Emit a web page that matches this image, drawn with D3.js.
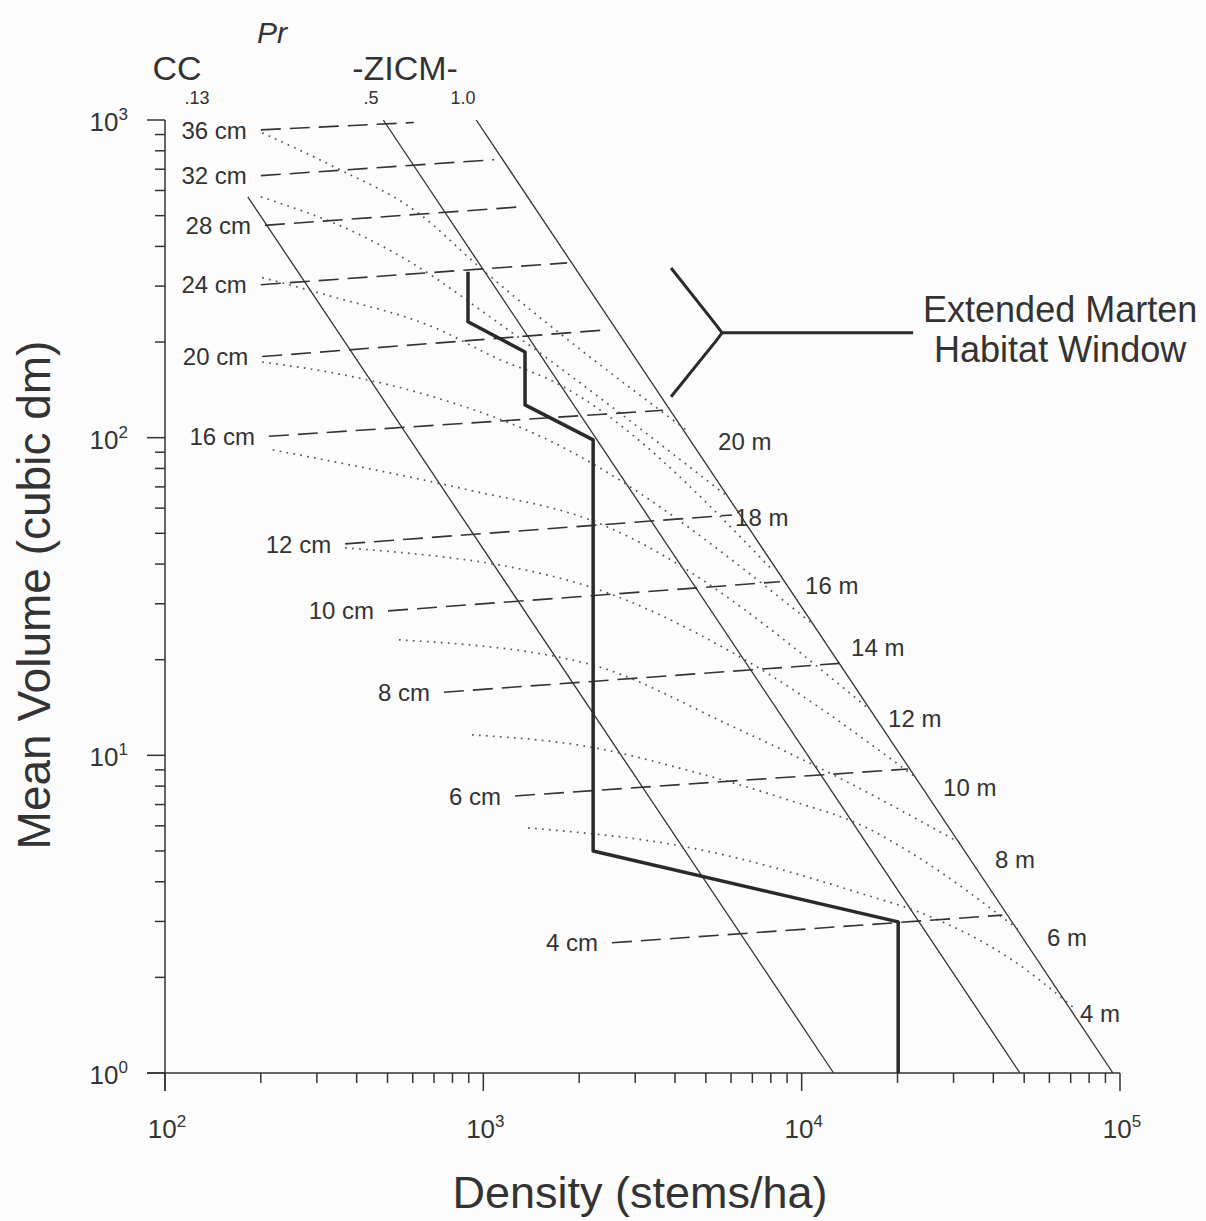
<!DOCTYPE html>
<html>
<head>
<meta charset="utf-8">
<script src="https://cdn.jsdelivr.net/npm/d3@7"></script>
<style>
  body { margin: 0; background: #fcfcfc; }
  svg { display: block; font-family: "Liberation Sans", Arial, sans-serif; }
  text { fill: #333; }
</style>
</head>
<body>
<div id="viz"></div>
<script>
// self-thinning lines (relative density Pr)
const prValues = [".13", ".5", "1.0"];
const prTopDensity = [182, 485, 950];
const prTopVolume = [573, 1000, 1000];
const prBottomDensity = [12600, 48500, 95000];
const prHeaderDensity = [126, 444, 864];

// quadratic mean diameter isolines (cm)
const diameters = [36, 32, 28, 24, 20, 16, 12, 10, 8, 6, 4];
const diamStartDensity = [200, 200, 206, 200, 202, 212, 368, 502, 752, 1258, 2535];
const diamStartVolume = [931, 668, 466, 303, 180, 101, 46.3, 28.5, 15.8, 7.45, 2.57];
const diamEndDensity = [605, 1081, 1313, 1833, 2377, 3670, 6040, 8550, 13400, 21600, 42700];
const diamEndVolume = [982, 750, 533, 355, 218, 122, 57.1, 35.2, 19.5, 9.06, 3.14];

// top height isolines (m): [density, volume] pairs
const heights = [20, 18, 16, 14, 12, 10, 8, 6, 4];
const heightCurves = [
  [[202, 911], [340, 712], [624, 510], [970, 345], [4333, 105.8]],
  [[200, 573], [422, 429], [624, 345], [1081, 235], [5872, 65.1]],
  [[202, 319], [340, 277], [695, 223], [1128, 176], [1620, 152], [8072, 38.4]],
  [[202, 173], [337, 160], [695, 134.5], [1433, 103.5], [10940, 25.7]],
  [[218, 91.5], [895, 68.5], [2164, 55.1], [16400, 13.9]],
  [[368, 45.0], [2164, 33.9], [6088, 21.0], [22720, 8.55]],
  [[543, 23.1], [2102, 19.5], [6088, 12.3], [13500, 8.37], [31450, 5.30]],
  [[921, 11.6], [2195, 10.6], [4333, 9.0], [9065, 7.24], [15820, 5.95], [22060, 4.93], [48570, 2.80]],
  [[1382, 5.91], [4333, 5.15], [15150, 3.69], [25500, 3.10], [45800, 2.27], [71250, 1.61]]
];
const heightLabelDensity = [5463, 6177, 10250, 14300, 18680, 27820, 40510, 59020, 74930];
const heightLabelVolume = [97.7, 56.3, 34.4, 21.9, 13.1, 7.95, 4.69, 2.68, 1.545];

// marten habitat window boundary
const habitatDensity = [895, 895, 1352, 1352, 2213, 2213, 20100, 20100];
const habitatVolume = [333, 231.6, 186, 126.8, 98.4, 5.0, 2.99, 1];

// bracket annotation
const bracketArms = [[3888, 342], [5384, 226.6], [5623, 213.8], [5384, 201.7], [3888, 134.5]];
const bracketStem = [[5623, 213.8], [22390, 213.8]];
const bracketText = ["Extended Marten", "Habitat Window"];
const bracketTextDensity = 64860;

const W = 1206, H = 1221;
const svg = d3.select("#viz").append("svg")
  .attr("width", W).attr("height", H);

svg.append("rect").attr("width", W).attr("height", H).attr("fill", "#fcfcfc");

const x = d3.scaleLog().domain([1e2, 1e5]).range([165, 1120]);
const y = d3.scaleLog().domain([1, 1e3]).range([1073, 120]);

const ink = "#333";
const line = d3.line().x(d => x(d[0])).y(d => y(d[1]));
const smooth = d3.line().x(d => x(d[0])).y(d => y(d[1])).curve(d3.curveMonotoneX);

// axes
const ax = svg.append("g").attr("stroke", ink).attr("stroke-width", 1.5);
ax.append("line")
  .attr("x1", x(1e2)).attr("x2", x(1e2))
  .attr("y1", y(1e3)).attr("y2", y(1) + 18);
ax.append("line")
  .attr("x1", x(1e2) - 18).attr("x2", x(1e5))
  .attr("y1", y(1)).attr("y2", y(1));

const isMajor = v => Math.abs(Math.log10(v) - Math.round(Math.log10(v))) < 1e-6;

ax.selectAll(".yt")
  .data(y.ticks())
  .enter().append("line")
  .attr("x1", d => x(1e2) - (isMajor(d) ? 18 : 10))
  .attr("x2", x(1e2))
  .attr("y1", d => y(d)).attr("y2", d => y(d));

ax.selectAll(".xt")
  .data(x.ticks())
  .enter().append("line")
  .attr("x1", d => x(d)).attr("x2", d => x(d))
  .attr("y1", y(1))
  .attr("y2", d => y(1) + (isMajor(d) ? 18 : 10));

const yLab = svg.selectAll(".yl")
  .data(y.ticks().filter(isMajor))
  .enter().append("text")
  .attr("x", x(1e2) - 37)
  .attr("y", d => y(d) + 11)
  .attr("text-anchor", "end")
  .style("font-size", "26px");
yLab.append("tspan").text("10");
yLab.append("tspan").attr("dy", -11).style("font-size", "17px")
  .text(d => Math.round(Math.log10(d)));

const xLab = svg.selectAll(".xl")
  .data(x.ticks().filter(isMajor))
  .enter().append("text")
  .attr("x", d => x(d) + 2)
  .attr("y", y(1) + 65)
  .attr("text-anchor", "middle")
  .style("font-size", "26px");
xLab.append("tspan").text("10");
xLab.append("tspan").attr("dy", -11).style("font-size", "17px")
  .text(d => Math.round(Math.log10(d)));

svg.append("text")
  .attr("x", 640).attr("y", 1208)
  .attr("text-anchor", "middle")
  .style("font-size", "45px")
  .text("Density (stems/ha)");

svg.append("text")
  .attr("transform", "translate(50,595) rotate(-90)")
  .attr("text-anchor", "middle")
  .style("font-size", "46px")
  .text("Mean Volume (cubic dm)");

// header labels
svg.append("text").attr("x", 272).attr("y", 43)
  .attr("text-anchor", "middle")
  .style("font-size", "30px").style("font-style", "italic")
  .text("Pr");
svg.append("text").attr("x", 177).attr("y", 80)
  .attr("text-anchor", "middle").style("font-size", "34px").text("CC");
svg.append("text").attr("x", 405).attr("y", 80)
  .attr("text-anchor", "middle").style("font-size", "34px").text("-ZICM-");
svg.selectAll(".prl")
  .data(prValues)
  .enter().append("text")
  .attr("x", (d, i) => x(prHeaderDensity[i]))
  .attr("y", 104)
  .attr("text-anchor", "middle")
  .style("font-size", "18px")
  .text(d => d);

// self-thinning lines
svg.selectAll(".pr")
  .data(prValues)
  .enter().append("path")
  .attr("d", (d, i) => line([[prTopDensity[i], prTopVolume[i]], [prBottomDensity[i], 1]]))
  .attr("fill", "none").attr("stroke", ink).attr("stroke-width", 1.3);

// height isolines
svg.selectAll(".ht")
  .data(heightCurves)
  .enter().append("path")
  .attr("d", d => smooth(d))
  .attr("fill", "none").attr("stroke", "#555")
  .attr("stroke-width", 1.7)
  .attr("stroke-dasharray", "1.7,5.3");

svg.selectAll(".htl")
  .data(heights)
  .enter().append("text")
  .attr("x", (d, i) => x(heightLabelDensity[i]))
  .attr("y", (d, i) => y(heightLabelVolume[i]))
  .attr("dy", "0.36em")
  .style("font-size", "24px")
  .text(d => d + " m");

// diameter isolines
svg.selectAll(".dm")
  .data(diameters)
  .enter().append("path")
  .attr("d", (d, i) => line([[diamStartDensity[i], diamStartVolume[i]], [diamEndDensity[i], diamEndVolume[i]]]))
  .attr("fill", "none").attr("stroke", ink)
  .attr("stroke-width", 1.6)
  .attr("stroke-dasharray", "20,9");

svg.selectAll(".dml")
  .data(diameters)
  .enter().append("text")
  .attr("x", (d, i) => x(diamStartDensity[i]) - 14)
  .attr("y", (d, i) => y(diamStartVolume[i]))
  .attr("dy", "0.36em")
  .attr("text-anchor", "end")
  .style("font-size", "24px")
  .text(d => d + " cm");

// habitat window
svg.append("path")
  .attr("d", line(habitatDensity.map((d, i) => [d, habitatVolume[i]])))
  .attr("fill", "none").attr("stroke", "#2a2a2a")
  .attr("stroke-width", 3.5).attr("stroke-linejoin", "round");

svg.append("path")
  .attr("d", line(bracketArms))
  .attr("fill", "none").attr("stroke", "#2a2a2a").attr("stroke-width", 3);
svg.append("path")
  .attr("d", line(bracketStem))
  .attr("fill", "none").attr("stroke", "#2a2a2a").attr("stroke-width", 3);

svg.selectAll(".bt")
  .data(bracketText)
  .enter().append("text")
  .attr("x", x(bracketTextDensity))
  .attr("y", (d, i) => y(bracketStem[0][1]) - 11 + i * 40)
  .attr("text-anchor", "middle")
  .style("font-size", "36px")
  .text(d => d);
</script>
</body>
</html>
